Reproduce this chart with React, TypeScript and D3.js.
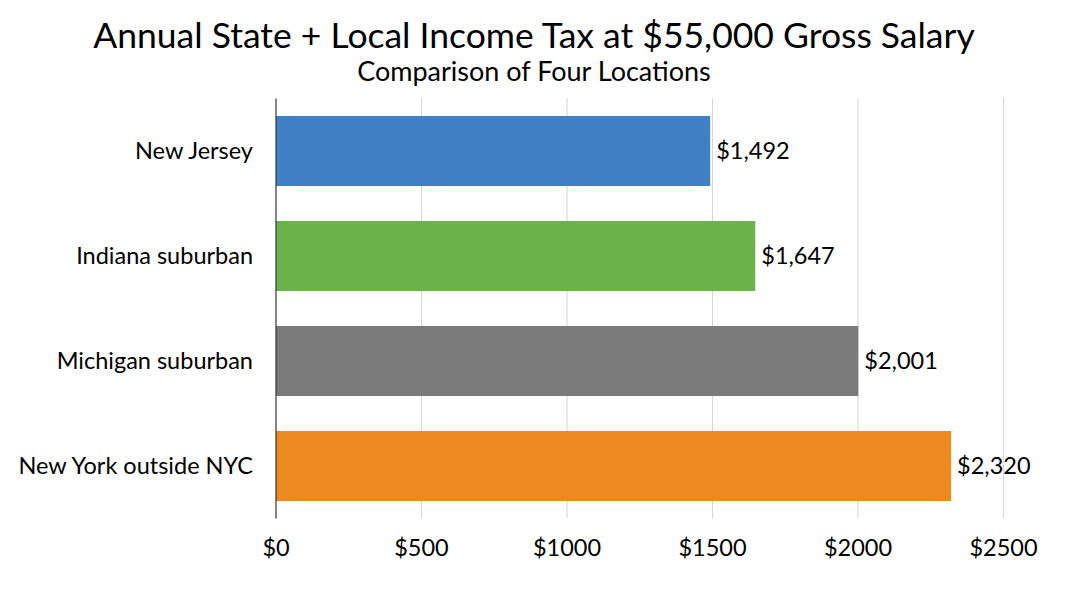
import { useEffect, useRef } from "react";
import * as d3 from "d3";

const locations = ["New Jersey", "Indiana suburban", "Michigan suburban", "New York outside NYC"];
const taxValues = [1492, 1647, 2001, 2320];
const barColors = ["#3F80C4", "#6CB24A", "#7B7B7B", "#EC8920"];
const xTicks = [0, 500, 1000, 1500, 2000, 2500];

const title = "Annual State + Local Income Tax at $55,000 Gross Salary";
const subtitle = "Comparison of Four Locations";

const WIDTH = 1068;
const HEIGHT = 601;
const FONT = "Lato, 'Noto Sans', sans-serif";

export default function App() {
  const svgRef = useRef<SVGSVGElement>(null);

  useEffect(() => {
    if (!svgRef.current) return;
    const margin = { top: 98.5, right: 64.5, bottom: 82.5, left: 276 };
    const innerWidth = WIDTH - margin.left - margin.right;
    const innerHeight = HEIGHT - margin.top - margin.bottom;

    const svg = d3.select(svgRef.current);
    svg.selectAll("*").remove();

    svg.append("rect").attr("width", WIDTH).attr("height", HEIGHT).attr("fill", "#fff");

    svg
      .append("text")
      .attr("x", WIDTH / 2)
      .attr("y", 48)
      .attr("text-anchor", "middle")
      .style("font-family", FONT)
      .style("font-size", "35.5px")
      .attr("fill", "#000")
      .text(title);

    svg
      .append("text")
      .attr("x", WIDTH / 2)
      .attr("y", 81)
      .attr("text-anchor", "middle")
      .style("font-family", FONT)
      .style("font-size", "27px")
      .attr("fill", "#000")
      .text(subtitle);

    const g = svg.append("g").attr("transform", `translate(${margin.left},${margin.top})`);

    const x = d3.scaleLinear().domain([0, 2500]).range([0, innerWidth]);
    const y = d3
      .scaleBand<string>()
      .domain(locations)
      .range([0, innerHeight])
      .paddingInner(0.333)
      .paddingOuter(0.1667);

    // Grid
    g.append("g")
      .selectAll("line")
      .data(xTicks.slice(1))
      .join("line")
      .attr("x1", (d) => x(d))
      .attr("x2", (d) => x(d))
      .attr("y1", 0)
      .attr("y2", innerHeight)
      .attr("stroke", "#d4d4d4")
      .attr("stroke-width", 1);

    // Bars
    g.selectAll("rect.bar")
      .data(taxValues)
      .join("rect")
      .attr("class", "bar")
      .attr("x", 0)
      .attr("y", (_, i) => y(locations[i])!)
      .attr("width", (d) => x(d))
      .attr("height", y.bandwidth())
      .attr("fill", (_, i) => barColors[i]);

    // Value labels
    g.selectAll("text.value")
      .data(taxValues)
      .join("text")
      .attr("class", "value")
      .attr("x", (d) => x(d) + 6)
      .attr("y", (_, i) => y(locations[i])! + y.bandwidth() / 2)
      .attr("dy", "0.35em")
      .style("font-family", FONT)
      .style("font-size", "23.5px")
      .attr("fill", "#000")
      .text((d) => `$${d3.format(",")(d)}`);

    // Category labels
    g.selectAll("text.cat")
      .data(locations)
      .join("text")
      .attr("class", "cat")
      .attr("x", -23)
      .attr("y", (d) => y(d)! + y.bandwidth() / 2)
      .attr("dy", "0.35em")
      .attr("text-anchor", "end")
      .style("font-family", FONT)
      .style("font-size", "23.5px")
      .attr("fill", "#000")
      .text((d) => d);

    // Axis line at zero
    g.append("line")
      .attr("x1", x(0))
      .attr("x2", x(0))
      .attr("y1", 0)
      .attr("y2", innerHeight)
      .attr("stroke", "#333")
      .attr("stroke-width", 1.2);

    // Tick labels
    g.selectAll("text.tick")
      .data(xTicks)
      .join("text")
      .attr("class", "tick")
      .attr("x", (d) => x(d))
      .attr("y", innerHeight + 29)
      .attr("dy", "0.35em")
      .attr("text-anchor", "middle")
      .style("font-family", FONT)
      .style("font-size", "23.5px")
      .attr("fill", "#000")
      .text((d) => `$${d}`);
  }, []);

  return (
    <svg
      ref={svgRef}
      width={WIDTH}
      height={HEIGHT}
      style={{ position: "absolute", left: 0, top: 0, display: "block" }}
    />
  );
}
